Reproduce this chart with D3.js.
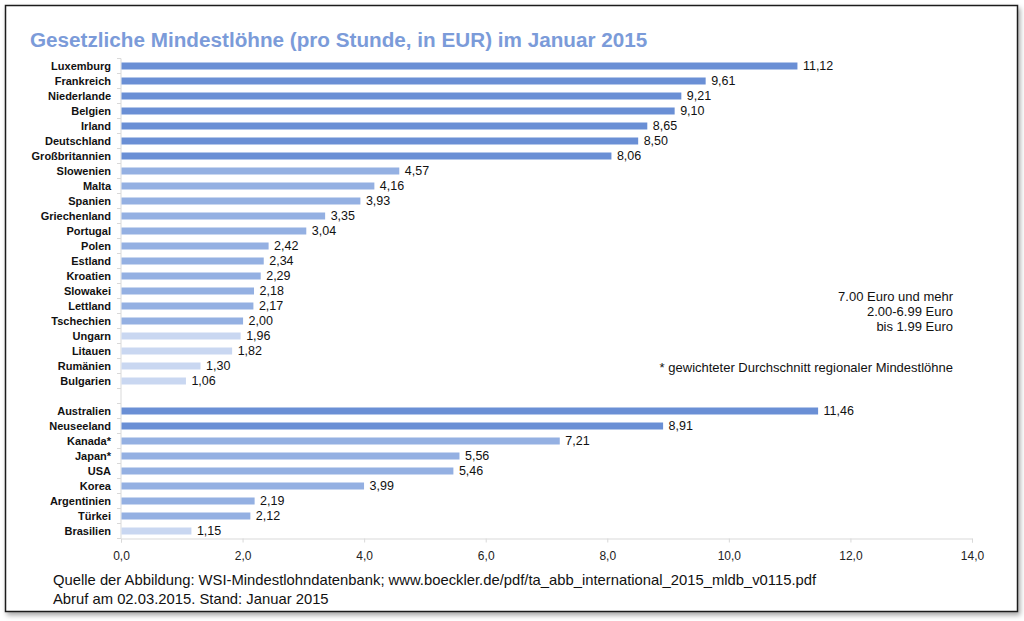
<!DOCTYPE html>
<html>
<head>
<meta charset="utf-8">
<script src="https://cdn.jsdelivr.net/npm/d3@7"></script>
<style>
  body { margin: 0; background: #fff; }
  svg { display: block; font-family: "Liberation Sans", Arial, sans-serif; }
</style>
</head>
<body>
<div id="chart"></div>
<script>
// Data
const europeCountries = ['Luxemburg', 'Frankreich', 'Niederlande', 'Belgien', 'Irland', 'Deutschland',
  'Großbritannien', 'Slowenien', 'Malta', 'Spanien', 'Griechenland', 'Portugal', 'Polen', 'Estland',
  'Kroatien', 'Slowakei', 'Lettland', 'Tschechien', 'Ungarn', 'Litauen', 'Rumänien', 'Bulgarien'];
const europeValues = [11.12, 9.61, 9.21, 9.10, 8.65, 8.50, 8.06, 4.57, 4.16, 3.93, 3.35, 3.04, 2.42,
  2.34, 2.29, 2.18, 2.17, 2.00, 1.96, 1.82, 1.30, 1.06];
const europeTiers = [0, 0, 0, 0, 0, 0, 0, 1, 1, 1, 1, 1, 1, 1, 1, 1, 1, 1, 2, 2, 2, 2];

const otherCountries = ['Australien', 'Neuseeland', 'Kanada*', 'Japan*', 'USA', 'Korea',
  'Argentinien', 'Türkei', 'Brasilien'];
const otherValues = [11.46, 8.91, 7.21, 5.56, 5.46, 3.99, 2.19, 2.12, 1.15];
const otherTiers = [0, 0, 1, 1, 1, 1, 1, 1, 2];

const xTicks = [0, 2, 4, 6, 8, 10, 12, 14];
const legendLines = ['7.00 Euro und mehr', '2.00-6.99 Euro', 'bis 1.99 Euro'];
const tierColors = ['#6a8fd5', '#94b0e2', '#c9d7f1'];

const title = 'Gesetzliche Mindestlöhne (pro Stunde, in EUR) im Januar 2015';
const footnote = '* gewichteter Durchschnitt regionaler Mindestlöhne';
const sourceLines = [
  'Quelle der Abbildung: WSI-Mindestlohndatenbank; www.boeckler.de/pdf/ta_abb_international_2015_mldb_v0115.pdf',
  'Abruf am 02.03.2015. Stand: Januar 2015'
];

// Build rows (with one empty slot between the two groups)
const rows = [
  ...europeCountries.map((c, i) => ({ key: c, name: c, value: europeValues[i], tier: europeTiers[i] })),
  { key: '__gap__', name: '', value: null, tier: null },
  ...otherCountries.map((c, i) => ({ key: c, name: c, value: otherValues[i], tier: otherTiers[i] })),
];
const bars = rows.filter((d) => d.value !== null);

const width = 1024;
const height = 621;
const fmt = (v, n) => v.toFixed(n).replace('.', ',');

const svg = d3.select('#chart')
  .append('svg')
  .attr('width', width)
  .attr('height', height);

// Drop shadow for the frame
const defs = svg.append('defs');
const filter = defs.append('filter').attr('id', 'shadow')
  .attr('x', '-5%').attr('y', '-5%').attr('width', '110%').attr('height', '110%');
filter.append('feDropShadow')
  .attr('dx', 2).attr('dy', 3).attr('stdDeviation', 2.5)
  .attr('flood-color', '#000').attr('flood-opacity', 0.35);

svg.append('rect')
  .attr('x', 5.5).attr('y', 5.5)
  .attr('width', 1012).attr('height', 606)
  .attr('fill', '#fff')
  .attr('stroke', '#1a1a1a')
  .attr('stroke-width', 1.5)
  .attr('filter', 'url(#shadow)');

// Scales
const xScale = d3.scaleLinear().domain([0, 14]).range([121, 972]);
const yScale = d3.scaleBand()
  .domain(rows.map((d) => d.key))
  .range([58.5, 538.5])
  .padding(0);
const barH = 7;

// Title
svg.append('text')
  .attr('x', 30).attr('y', 47)
  .attr('fill', '#7b9bd9')
  .attr('font-size', 20.7)
  .attr('font-weight', 'bold')
  .text(title);

// Y axis line and small ticks at row boundaries
const yAxisG = svg.append('g').attr('class', 'y-axis');
yAxisG.append('line')
  .attr('x1', xScale(0)).attr('x2', xScale(0))
  .attr('y1', yScale.range()[0]).attr('y2', yScale.range()[1])
  .attr('stroke', '#d9d9d9');
yAxisG.selectAll('line.tick')
  .data([...rows.map((d) => yScale(d.key)), yScale.range()[1]])
  .join('line')
  .attr('class', 'tick')
  .attr('x1', xScale(0) - 4).attr('x2', xScale(0))
  .attr('y1', (d) => d).attr('y2', (d) => d)
  .attr('stroke', '#d9d9d9');

// X axis
const xAxis = d3.axisBottom(xScale)
  .tickValues(xTicks)
  .tickSize(4)
  .tickFormat((d) => fmt(d, 1));
const xAxisG = svg.append('g')
  .attr('transform', `translate(0, ${yScale.range()[1]})`)
  .call(xAxis);
xAxisG.select('.domain').attr('stroke', '#d9d9d9');
xAxisG.selectAll('.tick line').attr('stroke', '#d9d9d9');
xAxisG.selectAll('.tick text')
  .attr('font-family', '"Liberation Sans", Arial, sans-serif')
  .attr('font-size', 12)
  .attr('fill', '#222')
  .attr('dy', '1.2em');

// Bars
svg.append('g')
  .selectAll('rect')
  .data(bars)
  .join('rect')
  .attr('x', xScale(0) + 0.5)
  .attr('y', (d) => yScale(d.key) + yScale.bandwidth() / 2 - barH / 2)
  .attr('width', (d) => xScale(d.value) - xScale(0))
  .attr('height', barH)
  .attr('fill', (d) => tierColors[d.tier]);

// Category labels
svg.append('g')
  .selectAll('text')
  .data(bars)
  .join('text')
  .attr('x', 111)
  .attr('y', (d) => yScale(d.key) + yScale.bandwidth() / 2)
  .attr('dy', '0.35em')
  .attr('text-anchor', 'end')
  .attr('font-size', 11)
  .attr('font-weight', 'bold')
  .attr('fill', '#111')
  .text((d) => d.name);

// Value labels
svg.append('g')
  .selectAll('text')
  .data(bars)
  .join('text')
  .attr('x', (d) => xScale(d.value) + 6)
  .attr('y', (d) => yScale(d.key) + yScale.bandwidth() / 2)
  .attr('dy', '0.35em')
  .attr('font-size', 12.5)
  .attr('fill', '#111')
  .text((d) => fmt(d.value, 2));

// Legend text (right aligned)
svg.append('g')
  .selectAll('text')
  .data(legendLines)
  .join('text')
  .attr('x', 953)
  .attr('y', (d, i) => 301 + i * 15)
  .attr('text-anchor', 'end')
  .attr('font-size', 13)
  .attr('fill', '#111')
  .text((d) => d);

svg.append('text')
  .attr('x', 953).attr('y', 372)
  .attr('text-anchor', 'end')
  .attr('font-size', 13)
  .attr('fill', '#111')
  .text(footnote);

// Source lines
svg.append('g')
  .selectAll('text')
  .data(sourceLines)
  .join('text')
  .attr('x', 53)
  .attr('y', (d, i) => 585 + i * 19)
  .attr('font-size', 14.8)
  .attr('fill', '#111')
  .text((d) => d);
</script>
</body>
</html>
